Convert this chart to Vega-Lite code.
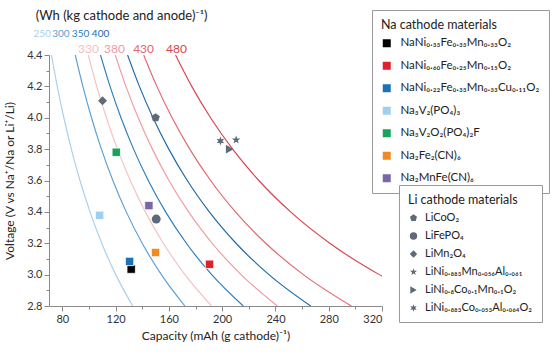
{
  "$schema": "https://vega.github.io/schema/vega-lite/v6.json",
  "width": 333,
  "height": 251,
  "autosize": {"type": "none"},
  "padding": {"left": 49, "top": 55, "right": 172, "bottom": 50},
  "background": "white",
  "config": {
    "font": "Lato",
    "view": {"stroke": null},
    "axis": {
      "domainColor": "#8a8a8a",
      "tickColor": "#8a8a8a",
      "labelColor": "#333333",
      "titleColor": "#222222",
      "labelFontSize": 11,
      "titleFontSize": 12,
      "titleFontWeight": "normal",
      "grid": false,
      "tickSize": 5,
      "labelFont": "Lato",
      "titleFont": "Lato"
    },
    "legend": {
      "titleFont": "Lato",
      "labelFont": "Lato",
      "titleFontWeight": "normal",
      "titleColor": "#222222",
      "labelColor": "#222222",
      "strokeColor": "#9a9a9a",
      "fillColor": "white"
    }
  },
  "resolve": {"axis": {"x": "independent", "y": "independent"}},
  "datasets": {
    "curves": [
      {"E": "250", "V": 2.8, "Q": 132.9}, {"E": "250", "V": 3.0, "Q": 120.1}, {"E": "250", "V": 3.2, "Q": 109.6}, {"E": "250", "V": 3.4, "Q": 100.8}, {"E": "250", "V": 3.6, "Q": 93.25}, {"E": "250", "V": 3.8, "Q": 86.78}, {"E": "250", "V": 4.0, "Q": 81.15}, {"E": "250", "V": 4.2, "Q": 76.2}, {"E": "250", "V": 4.4, "Q": 71.82},
      {"E": "300", "V": 2.8, "Q": 172.05}, {"E": "300", "V": 3.0, "Q": 154.35}, {"E": "300", "V": 3.2, "Q": 139.95}, {"E": "300", "V": 3.4, "Q": 128.0}, {"E": "300", "V": 3.6, "Q": 117.94}, {"E": "300", "V": 3.8, "Q": 109.34}, {"E": "300", "V": 4.0, "Q": 101.91}, {"E": "300", "V": 4.2, "Q": 95.43}, {"E": "300", "V": 4.4, "Q": 89.72},
      {"E": "330", "V": 2.8, "Q": 192.08}, {"E": "330", "V": 3.0, "Q": 172.05}, {"E": "330", "V": 3.2, "Q": 155.8}, {"E": "330", "V": 3.4, "Q": 142.36}, {"E": "330", "V": 3.6, "Q": 131.05}, {"E": "330", "V": 3.8, "Q": 121.41}, {"E": "330", "V": 4.0, "Q": 113.09}, {"E": "330", "V": 4.2, "Q": 105.84}, {"E": "330", "V": 4.4, "Q": 99.46},
      {"E": "350", "V": 2.8, "Q": 215.84}, {"E": "350", "V": 3.0, "Q": 192.14}, {"E": "350", "V": 3.2, "Q": 173.13}, {"E": "350", "V": 3.4, "Q": 157.55}, {"E": "350", "V": 3.6, "Q": 144.53}, {"E": "350", "V": 3.8, "Q": 133.51}, {"E": "350", "V": 4.0, "Q": 124.05}, {"E": "350", "V": 4.2, "Q": 115.83}, {"E": "350", "V": 4.4, "Q": 108.64},
      {"E": "380", "V": 2.8, "Q": 241.39}, {"E": "380", "V": 3.0, "Q": 214.18}, {"E": "380", "V": 3.2, "Q": 192.48}, {"E": "380", "V": 3.4, "Q": 174.78}, {"E": "380", "V": 3.6, "Q": 160.05}, {"E": "380", "V": 3.8, "Q": 147.62}, {"E": "380", "V": 4.0, "Q": 136.98}, {"E": "380", "V": 4.2, "Q": 127.77}, {"E": "380", "V": 4.4, "Q": 119.72},
      {"E": "400", "V": 2.8, "Q": 266.44}, {"E": "400", "V": 3.0, "Q": 235.11}, {"E": "400", "V": 3.2, "Q": 210.38}, {"E": "400", "V": 3.4, "Q": 190.36}, {"E": "400", "V": 3.6, "Q": 173.81}, {"E": "400", "V": 3.8, "Q": 159.92}, {"E": "400", "V": 4.0, "Q": 148.08}, {"E": "400", "V": 4.2, "Q": 137.87}, {"E": "400", "V": 4.4, "Q": 128.98},
      {"E": "430", "V": 2.8, "Q": 297.0}, {"E": "430", "V": 3.0, "Q": 260.95}, {"E": "430", "V": 3.2, "Q": 232.71}, {"E": "430", "V": 3.4, "Q": 209.98}, {"E": "430", "V": 3.6, "Q": 191.3}, {"E": "430", "V": 3.8, "Q": 175.67}, {"E": "430", "V": 4.0, "Q": 162.4}, {"E": "430", "V": 4.2, "Q": 150.99}, {"E": "430", "V": 4.4, "Q": 141.09},
      {"E": "480", "V": 2.8, "Q": 366.6}, {"E": "480", "V": 3.0, "Q": 318.0}, {"E": "480", "V": 3.2, "Q": 280.8}, {"E": "480", "V": 3.4, "Q": 251.4}, {"E": "480", "V": 3.6, "Q": 227.56}, {"E": "480", "V": 3.8, "Q": 207.85}, {"E": "480", "V": 4.0, "Q": 191.29}, {"E": "480", "V": 4.2, "Q": 177.17}, {"E": "480", "V": 4.4, "Q": 164.99}
    ],
    "labelsBlue": [
      {"E": "250", "Q": 64.9, "V": 4.535},
      {"E": "300", "Q": 78.9, "V": 4.535},
      {"E": "350", "Q": 93.7, "V": 4.535},
      {"E": "400", "Q": 108.7, "V": 4.535}
    ],
    "labelsRed": [
      {"E": "330", "Q": 99.7, "V": 4.44},
      {"E": "380", "Q": 119.2, "V": 4.44},
      {"E": "430", "Q": 141.0, "V": 4.44},
      {"E": "480", "Q": 165.7, "V": 4.44}
    ],
    "title": [
      {"text": "(Wh (kg cathode and anode)⁻¹)", "Q": 60.0, "V": 4.65}
    ],
    "na": [
      {"material": "NaNi₀.₃₃Fe₀.₃₃Mn₀.₃₃O₂", "Q": 131.7, "V": 3.035},
      {"material": "NaNi₀.₆₀Fe₀.₂₅Mn₀.₁₅O₂", "Q": 190.5, "V": 3.066},
      {"material": "NaNi₀.₂₂Fe₀.₃₃Mn₀.₃₃Cu₀.₁₁O₂", "Q": 130.5, "V": 3.084},
      {"material": "Na₃V₂(PO₄)₃", "Q": 108.0, "V": 3.378},
      {"material": "Na₃V₂O₂(PO₄)₂F", "Q": 120.5, "V": 3.78},
      {"material": "Na₂Fe₂(CN)₆", "Q": 150.0, "V": 3.141},
      {"material": "Na₂MnFe(CN)₆", "Q": 145.0, "V": 3.44}
    ],
    "li": [
      {"material": "LiCoO₂", "Q": 150.0, "V": 4.0},
      {"material": "LiFePO₄", "Q": 150.5, "V": 3.354},
      {"material": "LiMn₂O₄", "Q": 110.2, "V": 4.108},
      {"material": "LiNi₀.₈₈₃Mn₀.₀₅₆Al₀.₀₆₁", "Q": 210.5, "V": 3.859},
      {"material": "LiNi₀.₈Co₀.₁Mn₀.₁O₂", "Q": 205.7, "V": 3.8},
      {"material": "LiNi₀.₈₈₃Co₀.₀₅₃Al₀.₀₆₄O₂", "Q": 198.7, "V": 3.852}
    ]
  },
  "layer": [
    {
      "data": {"name": "curves"},
      "mark": {"type": "line", "clip": true, "interpolate": "monotone", "strokeWidth": 1.15},
      "encoding": {
        "x": {
          "field": "Q", "type": "quantitative",
          "scale": {"domain": [70, 320], "nice": false, "zero": false},
          "axis": {
            "title": "Capacity (mAh (g cathode)⁻¹)",
            "orient": "bottom",
            "values": [80, 120, 160, 200, 240, 280, 320],
            "labelOverlap": false,
            "labelPadding": 2,
            "titlePadding": 6
          }
        },
        "y": {
          "field": "V", "type": "quantitative",
          "scale": {"domain": [2.8, 4.4], "nice": false, "zero": false},
          "axis": {
            "title": "Voltage (V vs Na⁺/Na or Li⁺/Li)",
            "orient": "left",
            "values": [2.8, 3.0, 3.2, 3.4, 3.6, 3.8, 4.0, 4.2, 4.4],
            "format": ".1f",
            "labelOverlap": false,
            "labelPadding": 2,
            "titlePadding": 10
          }
        },
        "stroke": {
          "field": "E", "type": "nominal",
          "scale": {
            "domain": ["250", "300", "350", "400", "330", "380", "430", "480"],
            "range": ["#a8d0ec", "#5b9fd6", "#2a7cbf", "#1a68a8", "#f5c0c4", "#ef9aa2", "#e3646d", "#d9434d"]
          },
          "legend": null
        }
      }
    },
    {
      "data": {"name": "labelsBlue"},
      "mark": {"type": "text", "fontSize": 10, "align": "center", "baseline": "middle"},
      "encoding": {
        "x": {
          "field": "Q", "type": "quantitative",
          "axis": {"orient": "bottom", "values": [100, 140, 180, 220, 260, 300], "labels": false, "domain": false, "title": null, "tickSize": 3}
        },
        "y": {
          "field": "V", "type": "quantitative",
          "axis": {"orient": "left", "values": [2.9, 3.1, 3.3, 3.5, 3.7, 3.9, 4.1, 4.3], "labels": false, "domain": false, "title": null, "tickSize": 3}
        },
        "text": {"field": "E", "type": "nominal"},
        "fill": {
          "field": "E", "type": "nominal",
          "scale": {
            "domain": ["250", "300", "350", "400", "330", "380", "430", "480"],
            "range": ["#a8d0ec", "#5b9fd6", "#2a7cbf", "#1a68a8", "#f5c0c4", "#ef9aa2", "#e3646d", "#d9434d"]
          },
          "legend": null
        }
      }
    },
    {
      "data": {"name": "labelsRed"},
      "mark": {"type": "text", "fontSize": 12, "align": "center", "baseline": "middle"},
      "encoding": {
        "x": {"field": "Q", "type": "quantitative", "axis": null},
        "y": {"field": "V", "type": "quantitative", "axis": null},
        "text": {"field": "E", "type": "nominal"},
        "fill": {"field": "E", "type": "nominal", "legend": null}
      }
    },
    {
      "data": {"name": "title"},
      "mark": {"type": "text", "fontSize": 13, "align": "left", "baseline": "middle", "color": "#222222"},
      "encoding": {
        "x": {"field": "Q", "type": "quantitative", "axis": null},
        "y": {"field": "V", "type": "quantitative", "axis": null},
        "text": {"field": "text", "type": "nominal"}
      }
    },
    {
      "data": {"name": "na"},
      "mark": {"type": "square", "size": 70, "opacity": 1, "stroke": "white", "strokeWidth": 0.8},
      "encoding": {
        "x": {"field": "Q", "type": "quantitative", "axis": null},
        "y": {"field": "V", "type": "quantitative", "axis": null},
        "color": {
          "field": "material", "type": "nominal",
          "scale": {
            "domain": ["NaNi₀.₃₃Fe₀.₃₃Mn₀.₃₃O₂", "NaNi₀.₆₀Fe₀.₂₅Mn₀.₁₅O₂", "NaNi₀.₂₂Fe₀.₃₃Mn₀.₃₃Cu₀.₁₁O₂", "Na₃V₂(PO₄)₃", "Na₃V₂O₂(PO₄)₂F", "Na₂Fe₂(CN)₆", "Na₂MnFe(CN)₆"],
            "range": ["#000000", "#e1202b", "#1a72b8", "#9fd0ee", "#17a35a", "#f08a24", "#7b64a8"]
          },
          "legend": {
            "title": "Na cathode materials",
            "orient": "none",
            "legendX": 323,
            "legendY": -45,
            "padding": 9,
            "titleFontSize": 12.5,
            "titlePadding": 6,
            "labelFontSize": 11.5,
            "symbolType": "square",
            "symbolSize": 64,
            "symbolStrokeWidth": 0,
            "rowPadding": 9.5,
            "labelOffset": 8,
            "labelLimit": 200
          }
        }
      }
    },
    {
      "data": {"name": "li"},
      "mark": {"type": "point", "filled": true, "size": 80, "opacity": 1, "color": "#5d6b78"},
      "encoding": {
        "x": {"field": "Q", "type": "quantitative", "axis": null},
        "y": {"field": "V", "type": "quantitative", "axis": null},
        "shape": {
          "field": "material", "type": "nominal",
          "scale": {
            "domain": ["LiCoO₂", "LiFePO₄", "LiMn₂O₄", "LiNi₀.₈₈₃Mn₀.₀₅₆Al₀.₀₆₁", "LiNi₀.₈Co₀.₁Mn₀.₁O₂", "LiNi₀.₈₈₃Co₀.₀₅₃Al₀.₀₆₄O₂"],
            "range": [
              "M0,-1L0.951,-0.309L0.588,0.809L-0.588,0.809L-0.951,-0.309Z",
              "circle",
              "diamond",
              "M0,-1L0.235,-0.324L0.951,-0.309L0.38,0.124L0.588,0.809L0,0.4L-0.588,0.809L-0.38,0.124L-0.951,-0.309L-0.235,-0.324Z",
              "triangle-right",
              "M0,-1L0.225,-0.39L0.866,-0.5L0.45,0L0.866,0.5L0.225,0.39L0,1L-0.225,0.39L-0.866,0.5L-0.45,0L-0.866,-0.5L-0.225,-0.39Z"
            ]
          },
          "legend": {
            "title": "Li cathode materials",
            "orient": "none",
            "legendX": 350,
            "legendY": 130,
            "padding": 9,
            "titleFontSize": 12.5,
            "titlePadding": 6,
            "labelFontSize": 11,
            "symbolSize": 55,
            "symbolFillColor": "#5d6b78",
            "symbolStrokeWidth": 0,
            "rowPadding": 6,
            "labelOffset": 6,
            "labelLimit": 200
          }
        }
      }
    }
  ]
}
